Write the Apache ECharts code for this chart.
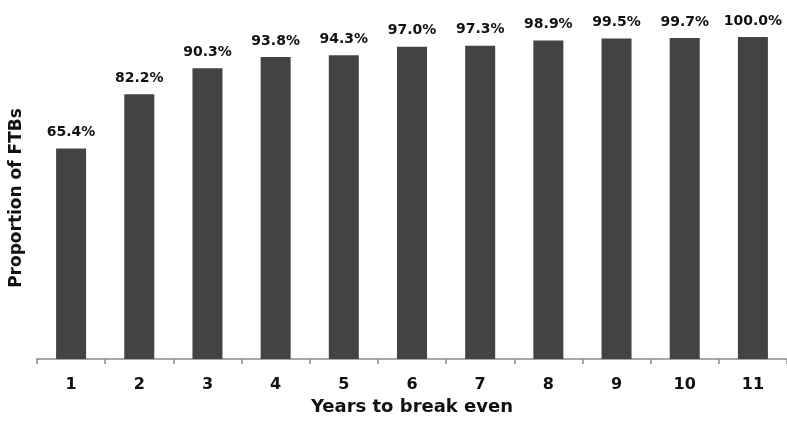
<!DOCTYPE html>
<html>
<head>
<meta charset="utf-8">
<script src="https://cdn.jsdelivr.net/npm/echarts@6/dist/echarts.min.js"></script>
<style>
  html, body { margin: 0; padding: 0; background: #fff; }
  #chart { width: 787px; height: 425px; }
</style>
</head>
<body>
<div id="chart"></div>
<script>
// Years needed to break even and the share of first-time buyers (FTBs)
const years = ['1', '2', '3', '4', '5', '6', '7', '8', '9', '10', '11'];
const proportion = [65.4, 82.2, 90.3, 93.8, 94.3, 97.0, 97.3, 98.9, 99.5, 99.7, 100.0];

const FONT = '"DejaVu Sans", Verdana, sans-serif';

const chart = echarts.init(document.getElementById('chart'), null, { renderer: 'canvas' });
chart.setOption({
  animation: false,
  backgroundColor: '#ffffff',
  grid: { left: 36, right: -4, top: 37, bottom: 66, containLabel: false },
  xAxis: {
    type: 'category',
    data: years,
    boundaryGap: true,
    name: 'Years to break even',
    nameLocation: 'middle',
    nameGap: 38,
    nameTextStyle: { fontFamily: FONT, fontWeight: 'bold', fontSize: 18, color: '#111' },
    axisLine: { lineStyle: { color: '#8a8a8a', width: 1.5 } },
    axisTick: { show: true, length: 5, lineStyle: { color: '#8a8a8a', width: 1.5 } },
    axisLabel: { fontFamily: FONT, fontWeight: 'bold', fontSize: 16, color: '#111', margin: 18 }
  },
  yAxis: {
    type: 'value',
    min: 0,
    max: 100,
    name: 'Proportion of FTBs',
    nameLocation: 'middle',
    nameRotate: 90,
    nameGap: 12,
    nameTextStyle: { fontFamily: FONT, fontWeight: 'bold', fontSize: 17, color: '#111' },
    axisLine: { show: false },
    axisTick: { show: false },
    axisLabel: { show: false },
    splitLine: { show: false }
  },
  series: [{
    type: 'bar',
    data: proportion,
    barWidth: 30,
    itemStyle: { color: '#434343' },
    label: {
      show: true,
      position: 'top',
      distance: 9,
      fontFamily: FONT,
      fontWeight: 'bold',
      fontSize: 14,
      color: '#111',
      formatter: p => p.value.toFixed(1) + '%'
    }
  }]
});
</script>
</body>
</html>
